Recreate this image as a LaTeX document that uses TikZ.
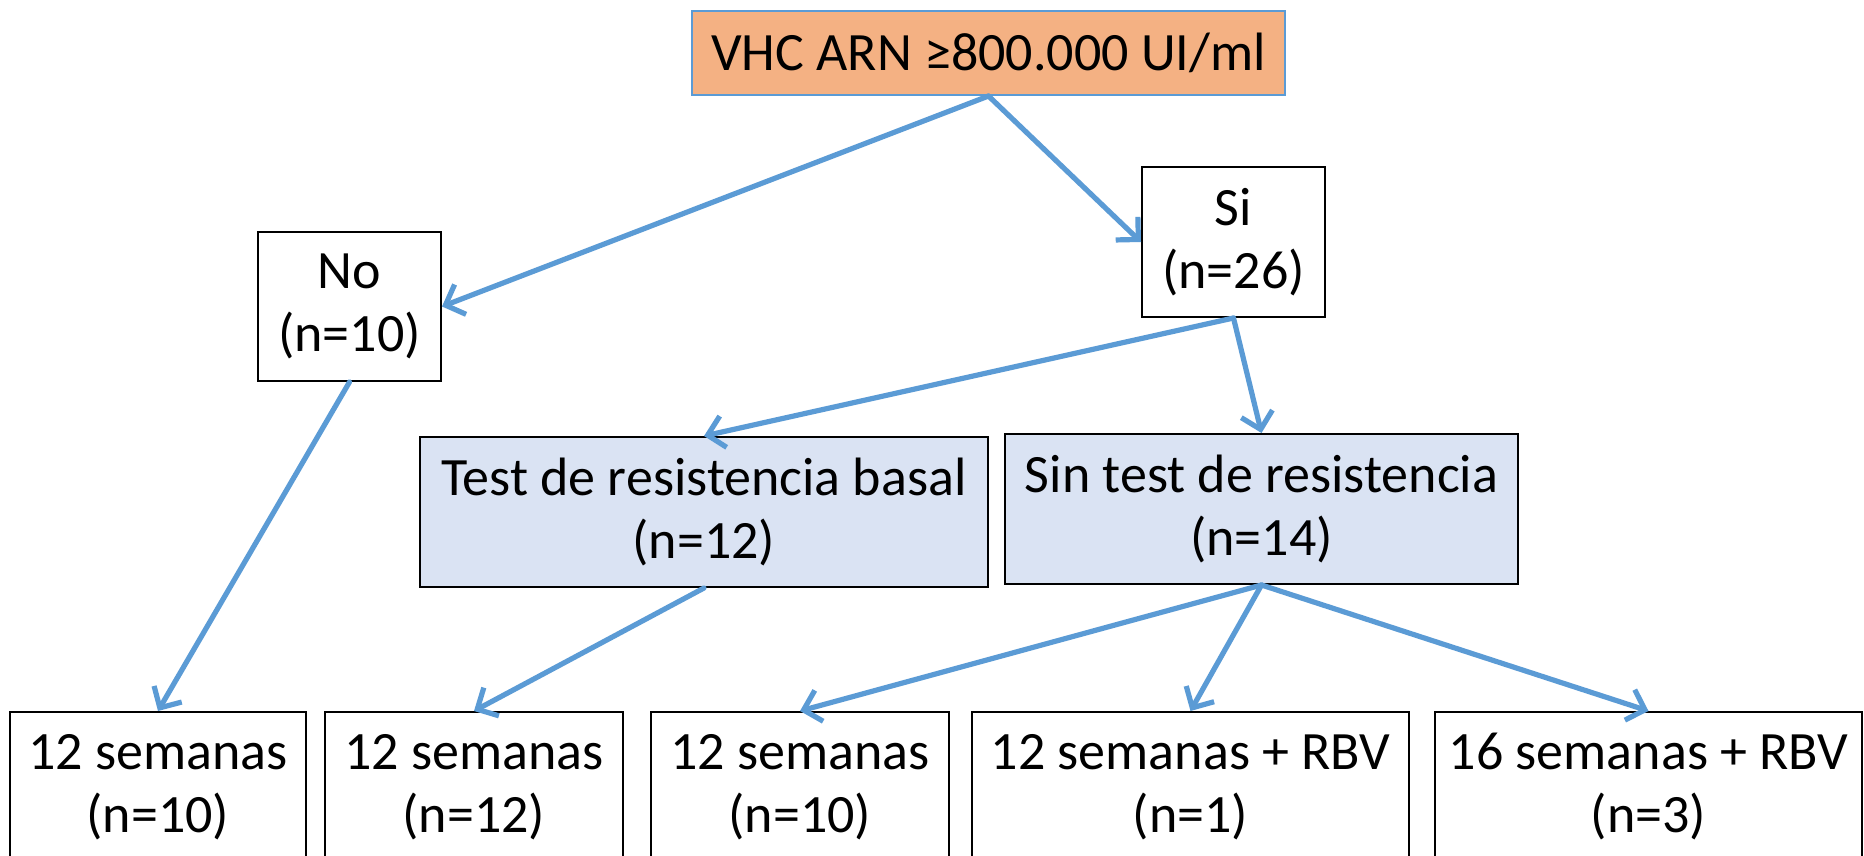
\documentclass[tikz,border=0pt]{standalone}
\usepackage{fontspec}
\setmainfont{Carlito}
\usetikzlibrary{arrows.meta}
\definecolor{arrowblue}{HTML}{5B9BD5}
\definecolor{orangefill}{HTML}{F4B183}
\definecolor{bluefill}{HTML}{DAE3F3}
\begin{document}
\begin{tikzpicture}[x=0.5pt,y=-0.5pt,
  box/.style={draw=black, line width=1pt, fill=white, inner sep=0pt, align=center,
    font=\fontsize{27}{31.5}\selectfont},
  conn/.style={draw=arrowblue, line width=2.6pt, line cap=round,
    -{Straight Barb[length=8pt,width=16pt,line width=2.6pt]}}]
\clip (0,0) rectangle (1864,856);
\fill[white] (0,0) rectangle (1864,856);
\node[box, fill=orangefill, draw=arrowblue, minimum width=296.5pt, minimum height=42pt] (top) at (988.5,53) {VHC ARN ≥800.000 UI/ml};
\node[box, minimum width=91.5pt, minimum height=75pt] (si) at (1233.5,242) {Si\\(n=26)};
\node[box, minimum width=91.5pt, minimum height=74.5pt] (no) at (349.5,306.5) {No\\(n=10)};
\node[box, fill=bluefill, minimum width=284pt, minimum height=75pt] (test) at (704,512) {Test de resistencia basal\\(n=12)};
\node[box, fill=bluefill, minimum width=256.5pt, minimum height=75pt] (sin) at (1261.5,509) {Sin test de resistencia\\(n=14)};
\node[box, minimum width=148pt, minimum height=75pt] (b1) at (158,787) {12 semanas\\(n=10)};
\node[box, minimum width=149pt, minimum height=75pt] (b2) at (474,787) {12 semanas\\(n=12)};
\node[box, minimum width=149pt, minimum height=75pt] (b3) at (800,787) {12 semanas\\(n=10)};
\node[box, minimum width=218.5pt, minimum height=75pt] (b4) at (1190.5,787) {12 semanas + RBV\\(n=1)};
\node[box, minimum width=213.5pt, minimum height=75pt] (b5) at (1648.5,787) {16 semanas + RBV\\(n=3)};
\draw[conn] (top.south) -- (no.east);
\draw[conn] (top.south) -- (si.west);
\draw[conn] (si.south) -- (test.north);
\draw[conn] (si.south) -- (sin.north);
\draw[conn] (no.south) -- (b1.north);
\draw[conn] (test.south) -- (b2.north);
\draw[conn] (sin.south) -- (b3.north);
\draw[conn] (sin.south) -- (b4.north);
\draw[conn] (sin.south) -- (b5.north);
\end{tikzpicture}
\end{document}
